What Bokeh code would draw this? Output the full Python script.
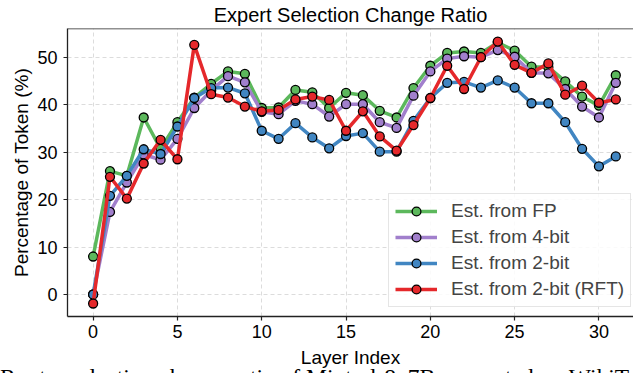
from bokeh.plotting import figure
from bokeh.models import Range1d, FixedTicker, Legend, LegendItem, Span, Div
from bokeh.layouts import column
from bokeh.embed import file_html
from bokeh.resources import INLINE

# ---- data ----
layers = list(range(32))
series_names = ["Est. from FP", "Est. from 4-bit", "Est. from 2-bit", "Est. from 2-bit (RFT)"]
fp = [8.0, 26.0, 25.0, 37.3, 30.7, 36.3, 41.5, 44.4, 47.0, 46.5, 39.3, 39.4, 43.1, 42.6, 39.3, 42.5,
      42.0, 38.7, 37.3, 43.5, 48.2, 50.9, 51.2, 50.9, 53.1, 51.4, 48.0, 47.9, 44.9, 41.7, 39.8, 46.2]
bit4 = [0.0, 17.4, 23.6, 29.5, 28.4, 32.8, 39.3, 43.0, 46.0, 44.7, 38.5, 38.0, 40.8, 40.1, 37.5, 40.1,
        40.1, 36.3, 35.1, 41.9, 47.0, 49.7, 50.2, 50.0, 51.5, 50.1, 46.7, 46.6, 43.3, 39.6, 37.3, 44.6]
bit2 = [0.0, 20.8, 25.0, 30.6, 29.6, 35.4, 41.4, 43.5, 43.6, 42.4, 34.5, 32.8, 36.1, 33.1, 30.8, 33.4,
        34.0, 30.1, 30.1, 36.6, 41.4, 44.6, 44.8, 43.6, 45.1, 43.6, 40.3, 40.3, 36.3, 30.7, 27.0, 29.1]
rft = [-1.9, 24.8, 20.2, 27.6, 32.6, 28.5, 52.6, 42.2, 41.5, 39.6, 38.6, 38.9, 41.1, 41.7, 41.0, 34.5,
       38.6, 33.3, 30.3, 35.7, 41.4, 48.2, 43.3, 50.0, 53.3, 48.4, 46.7, 48.7, 42.1, 44.0, 40.4, 41.1]
x_ticks = [0, 5, 10, 15, 20, 25, 30]
y_ticks = [0, 10, 20, 30, 40, 50]
title_text = "Expert Selection Change Ratio"
x_label = "Layer Index"
y_label = "Percentage of Token (%)"
caption_text = "Router selection change ratio of Mixtral-8x7B computed on WikiText2"

# ---- styles ----
colors = ["#5cb85c", "#a17fcc", "#4186c2", "#e5282b"]
X0, X1 = -1.52, 32.05
Y0, Y1 = -4.64, 56.05
SANS = "Liberation Sans"

p = figure(width=633, height=373, x_range=Range1d(X0, X1), y_range=Range1d(Y0, Y1),
           output_backend="svg", toolbar_location=None,
           min_border_left=67, min_border_right=0, min_border_top=28, min_border_bottom=57,
           margin=(0, 0, 0, 0))
p.outline_line_color = None
p.background_fill_color = "white"

p.title.text = title_text
p.title.align = "center"
p.title.vertical_align = "top"
p.title.text_font = SANS
p.title.text_font_size = "20px"
p.title.text_font_style = "normal"
p.title.text_color = "black"
p.title.standoff = 1
p.title.offset = 2

for ax, ticks in ((p.xaxis, x_ticks), (p.yaxis, y_ticks)):
    ax.ticker = FixedTicker(ticks=ticks)
    ax.major_label_text_font = SANS
    ax.major_label_text_font_size = "18px"
    ax.major_label_text_color = "black"
    ax.axis_label_text_font = SANS
    ax.axis_label_text_font_size = "19px"
    ax.axis_label_text_font_style = "normal"
    ax.axis_label_text_color = "black"
    ax.minor_tick_line_color = None
    ax.major_tick_in = 0
    ax.major_tick_out = 4
    ax.major_tick_line_color = "#222222"
    ax.major_tick_line_width = 1.2
    ax.axis_line_color = "#222222"
    ax.axis_line_width = 1.3
p.xaxis.axis_label = x_label
p.yaxis.axis_label = y_label
p.xaxis.major_label_standoff = 4
p.xaxis.axis_label_standoff = 6
p.yaxis.major_label_standoff = 6
p.yaxis.axis_label_standoff = 2

for g in (p.xgrid, p.ygrid):
    g.grid_line_color = "#dcdcdc"
    g.grid_line_dash = "4 3"
    g.grid_line_width = 1

# top spine
p.add_layout(Span(location=Y1, dimension="width", line_color="#222222", line_width=1.3))

items = []
for name, ys, c in zip(series_names, [fp, bit4, bit2, rft], colors):
    lr = p.line(layers, ys, line_color=c, line_width=3.5)
    sr = p.scatter(layers, ys, size=9, fill_color=c, line_color="black", line_width=1.3)
    items.append(LegendItem(label=name, renderers=[lr, sr]))

legend = Legend(items=items, location=(321, 9))
legend.label_text_font = SANS
legend.label_text_font_size = "19px"
legend.glyph_width = 42
legend.glyph_height = 22
legend.label_height = 22
legend.label_standoff = 14
legend.spacing = 4
legend.padding = 6
legend.margin = 0
legend.border_line_color = "#cccccc"
legend.border_line_width = 1
legend.background_fill_alpha = 0.85
p.add_layout(legend)

# figure caption under the chart, cut by the bottom edge as in the source image
caption = Div(text=caption_text, width=633, height=8, margin=(-8, 0, 0, 0),
              styles={"overflow": "hidden", "font-family": "Liberation Serif",
                      "font-size": "23.5px", "line-height": "24px", "white-space": "nowrap",
                      "color": "black"})

layout = column(p, caption, spacing=0)
open("out.html", "w").write(file_html(layout, INLINE))
